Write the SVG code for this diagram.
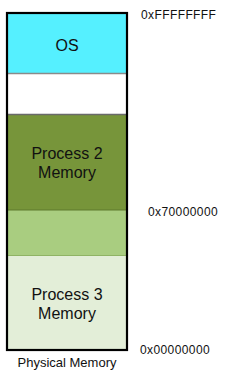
<svg xmlns="http://www.w3.org/2000/svg" width="225" height="372" viewBox="0 0 225 372">
<style>
.lbl{font-family:"Liberation Sans",Arial,sans-serif;font-size:16px;fill:#111;text-anchor:middle}
.addr{font-family:"Liberation Sans",Arial,sans-serif;font-size:12px;fill:#111;letter-spacing:0.4px}
.cap{font-family:"Liberation Sans",Arial,sans-serif;font-size:13px;fill:#111;text-anchor:middle}
</style>
<rect width="225" height="372" fill="#fff"/>
<g id="os">
<rect x="7" y="13" width="120" height="60.5" fill="#55F0FF"/>
<text class="lbl" x="67" y="51">OS</text>
</g>
<g id="free">
<rect x="7" y="73.5" width="120" height="41" fill="#fff"/>
</g>
<g id="process2">
<rect x="7" y="114.5" width="120" height="95.5" fill="#77953A"/>
<text class="lbl" x="67" y="159">Process 2</text>
<text class="lbl" x="67" y="178">Memory</text>
</g>
<g id="shared">
<rect x="7" y="210" width="120" height="45.5" fill="#A9CD80"/>
</g>
<g id="process3">
<rect x="7" y="255.5" width="120" height="94.5" fill="#E3EED8"/>
<text class="lbl" x="67" y="300">Process 3</text>
<text class="lbl" x="67" y="319">Memory</text>
</g>
<g id="connectors">
<line x1="7" y1="73.5" x2="127" y2="73.5" stroke="#8a8a8a" stroke-width="1.5"/>
<line x1="7" y1="114.5" x2="127" y2="114.5" stroke="#6a6a6a" stroke-width="1.5"/>
<line x1="7" y1="210" x2="127" y2="210" stroke="#5E7A2C" stroke-width="1.2"/>
<line x1="7" y1="255.5" x2="127" y2="255.5" stroke="#8FB364" stroke-width="1.2"/>
</g>
<rect x="7" y="13" width="120" height="337" fill="none" stroke="#000" stroke-width="2.2"/>
<g id="labels">
<text class="addr" x="141" y="19">0xFFFFFFFF</text>
<text class="addr" x="148" y="216">0x70000000</text>
<text class="addr" x="140" y="354">0x00000000</text>
<text class="cap" x="67" y="367">Physical Memory</text>
</g>
</svg>
